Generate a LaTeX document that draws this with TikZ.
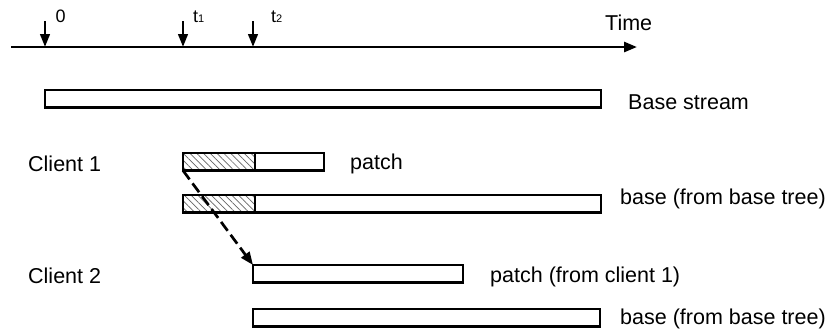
\documentclass[tikz,border=0pt]{standalone}
\usepackage{fontspec}
\setmainfont{Liberation Sans}
\usetikzlibrary{arrows.meta,patterns.meta}

\tikzset{
  bar/.style={draw, line width=2.7pt, inner sep=0pt, outer sep=0pt,
    minimum height=17.5pt, anchor=north west, fill=white},
  hatchbar/.style={bar, fill=none,
    pattern={Lines[angle=-45, distance=4.8pt, line width=0.7pt]},
    pattern color=black!60},
  lbl/.style={inner sep=0pt, anchor=base west,
    font=\fontsize{21.5}{25}\selectfont},
  ticklbl/.style={inner sep=0pt, anchor=base west,
    font=\fontsize{18}{21}\selectfont},
  axisline/.style={line width=2.7pt, -{Triangle[width=10pt, length=13pt]}},
  tickarrow/.style={line width=2.7pt, -{Triangle[width=9.5pt, length=13pt]}},
  dasharrow/.style={line width=2.7pt, dash pattern=on 11pt off 5pt,
    -{Triangle[width=10pt, length=13pt]}},
}
\newcommand{\subnum}[1]{{\fontsize{11}{12}\selectfont #1}}

\begin{document}
\begin{tikzpicture}[x=1pt, y=-1pt]
  \useasboundingbox (0,0) rectangle (830,330);

  % time axis with the three marked instants
  \coordinate (axstart) at (11,47);
  \coordinate (axend) at (637,47);
  \draw[axisline] (axstart) -- (axend);
  \node[lbl] (time) at (605,30) {Time};

  \coordinate (m0) at (45,47);   \coordinate (m0top) at (45,21);
  \coordinate (m1) at (183,47);  \coordinate (m1top) at (183,21);
  \coordinate (m2) at (253,47);  \coordinate (m2top) at (253,21);
  \draw[tickarrow] (m0top) -- (m0);
  \draw[tickarrow] (m1top) -- (m1);
  \draw[tickarrow] (m2top) -- (m2);
  \node[ticklbl] (l0) at (55.5,22) {0};
  \node[ticklbl] (l1) at (193,22) {t\subnum{1}};
  \node[ticklbl] (l2) at (271,22) {t\subnum{2}};

  % base stream
  \node[bar, minimum width=556pt] (bstream) at (45,90) {};
  \node[lbl] (bstreamlbl) at (628,109) {Base stream};

  % client 1
  \node[lbl] (c1) at (28,171) {Client 1};
  \node[bar, minimum width=141pt] (c1patch) at (183,153) {};
  \node[hatchbar, minimum width=72pt] (c1patchh) at (183,153) {};
  \node[lbl] (c1patchlbl) at (350,169) {patch};
  \node[bar, minimum width=418pt] (c1base) at (183,195) {};
  \node[hatchbar, minimum width=72pt] (c1baseh) at (183,195) {};
  \node[lbl] (c1baselbl) at (620,204) {base (from base tree)};

  % client 2
  \node[lbl] (c2) at (28,283) {Client 2};
  \node[bar, minimum width=210pt] (c2patch) at (253,265) {};
  \node[lbl] (c2patchlbl) at (490,282) {patch (from client 1)};
  \node[bar, minimum width=347pt] (c2base) at (253,309) {};
  \node[lbl] (c2baselbl) at (620,324) {base (from base tree)};

  % the patch handed from client 1 to client 2
  \draw[dasharrow] (c1patchh.south west) -- (c2patch.north west);
\end{tikzpicture}
\end{document}
